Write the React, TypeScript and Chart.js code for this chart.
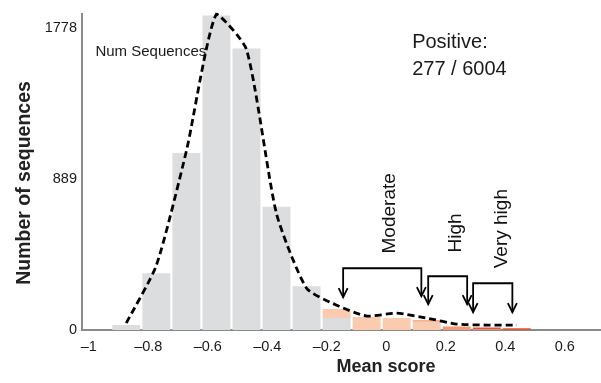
import React, { useEffect, useRef } from "react";
import { Chart, registerables } from "chart.js";

Chart.register(...registerables);

// ---- data ----
const binCenters = [-0.874, -0.773, -0.672, -0.571, -0.47, -0.369, -0.268, -0.167, -0.066, 0.035, 0.136, 0.237, 0.338, 0.439];
const negativeCounts = [29, 333, 1041, 1850, 1655, 725, 257, 70, 0, 0, 0, 0, 0, 0];
const moderateCounts = [0, 0, 0, 0, 0, 0, 0, 53, 76, 70, 49, 0, 0, 0];
const highCounts = [0, 0, 0, 0, 0, 0, 0, 0, 0, 0, 9, 20, 4, 0];
const veryHighCounts = [0, 0, 0, 0, 0, 0, 0, 0, 0, 0, 0, 0, 10, 11];
const densityCurve = [41, 380, 1053, 1858, 1650, 684, 246, 146, 82, 99, 70, 35, 29, 29];
const xTicks = [-1, -0.8, -0.6, -0.4, -0.2, 0, 0.2, 0.4, 0.6];
const yTicks = [0, 889, 1778];
const bracketLabels = ["Moderate", "High", "Very high"];
const bracketFrom = [-0.145, 0.141, 0.292];
const bracketTo = [0.118, 0.272, 0.424];
const bracketTop = [363, 316, 275];
const bracketTipFrom = [193, 152, 105];
const bracketTipTo = [199, 152, 105];
const bracketTextX = [0.03, 0.251, 0.407];
const bracketTextY = [450, 456, 363];
const legendText = "Num Sequences";
const legendPos = { x: -0.978, y: 1638 };
const positiveLines = ["Positive:", "277 / 6004"];
const positiveX = 0.087;
const positiveY = [1657, 1501];

const FONT = "'Liberation Sans', Arial, Helvetica, sans-serif";

const fmt = (v: number) => {
  const r = Number(v.toFixed(1));
  if (r < 0) return "\u2013" + String(Math.abs(r));
  return String(r);
};

const annotationPlugin = {
  id: "annots",
  beforeDatasetDraw(chart: any, args: any) {
    if (args.index !== 4) return;
    const { ctx, scales } = chart;
    ctx.save();
    ctx.fillStyle = "#1a1a1a";
    ctx.font = `15px ${FONT}`;
    ctx.textAlign = "left";
    ctx.textBaseline = "middle";
    ctx.fillText(legendText, scales.x.getPixelForValue(legendPos.x), scales.y.getPixelForValue(legendPos.y));
    ctx.restore();
  },
  afterDatasetsDraw(chart: any) {
    const { ctx, scales } = chart;
    const xs = scales.x;
    const ys = scales.y;
    ctx.save();
    // Positive text
    ctx.fillStyle = "#1a1a1a";
    ctx.font = `20px ${FONT}`;
    ctx.textAlign = "left";
    ctx.textBaseline = "alphabetic";
    positiveLines.forEach((t, i) => {
      ctx.fillText(t, xs.getPixelForValue(positiveX), ys.getPixelForValue(positiveY[i]));
    });

    // brackets
    ctx.strokeStyle = "#000";
    ctx.lineWidth = 1.8;
    ctx.lineJoin = "miter";
    bracketLabels.forEach((label, i) => {
      const x1 = xs.getPixelForValue(bracketFrom[i]);
      const x2 = xs.getPixelForValue(bracketTo[i]);
      const yt = ys.getPixelForValue(bracketTop[i]);
      const y1 = ys.getPixelForValue(bracketTipFrom[i]);
      const y2 = ys.getPixelForValue(bracketTipTo[i]);
      ctx.beginPath();
      ctx.moveTo(x1, y1);
      ctx.lineTo(x1, yt);
      ctx.lineTo(x2, yt);
      ctx.lineTo(x2, y2);
      ctx.stroke();
      const head = (x: number, y: number) => {
        ctx.beginPath();
        ctx.moveTo(x - 4.5, y - 9);
        ctx.lineTo(x, y);
        ctx.lineTo(x + 4.5, y - 9);
        ctx.stroke();
      };
      head(x1, y1);
      head(x2, y2);

      // rotated label
      ctx.save();
      ctx.translate(xs.getPixelForValue(bracketTextX[i]), ys.getPixelForValue(bracketTextY[i]));
      ctx.rotate(-Math.PI / 2);
      ctx.font = `19px ${FONT}`;
      ctx.fillStyle = "#111";
      ctx.textAlign = "left";
      ctx.textBaseline = "alphabetic";
      ctx.fillText(label, 0, 0);
      ctx.restore();
    });

    // axis titles
    ctx.fillStyle = "#222";
    ctx.font = `bold 18px ${FONT}`;
    ctx.textAlign = "center";
    ctx.textBaseline = "middle";
    ctx.fillText("Mean score", 386, 367);
    ctx.save();
    ctx.translate(25, 183);
    ctx.rotate(-Math.PI / 2);
    ctx.font = `bold 19.5px ${FONT}`;
    ctx.fillText("Number of sequences", 0, 0);
    ctx.restore();
    ctx.restore();
  },
};

const toPoints = (vals: number[]) => vals.map((v, i) => ({ x: binCenters[i], y: v }));

export default function App() {
  const ref = useRef<HTMLCanvasElement | null>(null);
  useEffect(() => {
    if (!ref.current) return;
    const barCommon = {
      type: "bar" as const,
      stack: "hist",
      order: 1,
      borderWidth: 0,
      barPercentage: 0.93,
      categoryPercentage: 1,
    };
    const chart = new Chart(ref.current, {
      type: "bar",
      data: {
        datasets: [
          { ...barCommon, label: "Negative", data: toPoints(negativeCounts), backgroundColor: "#dcdddf" },
          { ...barCommon, label: "Moderate", data: toPoints(moderateCounts), backgroundColor: "#fbcbb0" },
          { ...barCommon, label: "High", data: toPoints(highCounts), backgroundColor: "#f19a75" },
          { ...barCommon, label: "Very high", data: toPoints(veryHighCounts), backgroundColor: "#e2553a" },
          {
            type: "line" as const,
            label: "Num Sequences",
            data: toPoints(densityCurve),
            order: 0,
            borderColor: "#000",
            borderWidth: 2.8,
            borderDash: [7, 4],
            pointRadius: 0,
            tension: 0.2,
            fill: false,
            clip: false as any,
          },
        ] as any,
      },
      options: {
        animation: false,
        responsive: false,
        maintainAspectRatio: false,
        layout: { padding: { top: 13, left: 0, right: 0, bottom: 0 } },
        plugins: { legend: { display: false }, tooltip: { enabled: false } },
        scales: {
          x: {
            type: "linear",
            min: -1.023,
            max: 0.722,
            offset: false,
            grid: { display: false, drawTicks: false },
            border: { display: true, color: "#8a8a8a", width: 2 },
            afterBuildTicks: (axis: any) => {
              axis.ticks = xTicks.map((v) => ({ value: v }));
            },
            afterFit: (axis: any) => {
              axis.height = 53;
            },
            ticks: {
              autoSkip: false,
              maxRotation: 0,
              padding: 8,
              color: "#1a1a1a",
              font: { family: FONT, size: 14.5 },
              callback: (v: any) => fmt(Number(v)),
            },
          },
          y: {
            type: "linear",
            min: 0,
            max: 1860,
            grid: { display: false, drawTicks: false },
            border: { display: true, color: "#8a8a8a", width: 2 },
            afterBuildTicks: (axis: any) => {
              axis.ticks = yTicks.map((v) => ({ value: v }));
            },
            afterFit: (axis: any) => {
              axis.width = 82;
            },
            ticks: {
              padding: 5,
              color: "#1a1a1a",
              font: { family: FONT, size: 14.5 },
              callback: (v: any) => String(v),
            },
          },
        },
      } as any,
      plugins: [annotationPlugin],
    });
    return () => chart.destroy();
  }, []);
  return (
    <div style={{ position: "fixed", left: 0, top: 0, width: 601, height: 383, background: "#fff" }}>
      <canvas ref={ref} width={601} height={383} style={{ width: 601, height: 383, display: "block" }} />
    </div>
  );
}
